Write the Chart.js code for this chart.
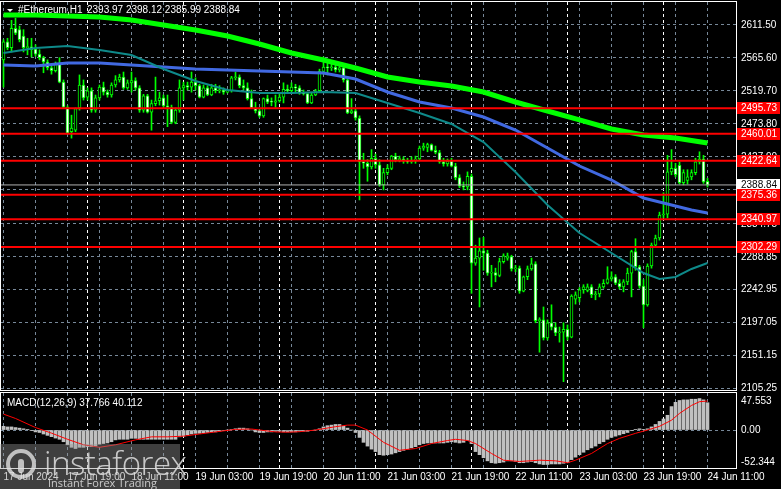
<!DOCTYPE html>
<html>
<head>
<meta charset="utf-8">
<script src="https://cdn.jsdelivr.net/npm/chart.js@4.4.1/dist/chart.umd.min.js"></script>
<style>
  html, body { margin: 0; padding: 0; background: #000; }
  #wrap { position: relative; width: 781px; height: 489px; overflow: hidden; background: #000; }
  #main { position: absolute; left: 0; top: 0; }
  #macd { position: absolute; left: 0; top: 392px; }
  .wm { position: absolute; left: 0; top: 444px; width: 180px; height: 45px;
        background: rgba(150,150,150,0.42); font-family: "Open Sans", sans-serif; color: rgba(225,225,225,0.85); }
  .wm .ico { position: absolute; left: 6px; top: 5px; width: 30px; height: 30px; border-radius: 50%;
             border: 4px solid rgba(225,225,225,0.8); box-sizing: border-box; }
  .wm .ico::after { content: ""; position: absolute; left: 8px; top: 6px; width: 6px; height: 14px;
                    background: rgba(225,225,225,0.8); border-radius: 3px; }
  .wm .big { position: absolute; left: 44px; top: -4px; font-size: 33px; font-weight: 300; letter-spacing: -0.5px; }
  .wm .small { position: absolute; left: 48px; top: 31px; font-size: 11px; }
</style>
</head>
<body>
<div id="wrap">
  <canvas id="main" width="781" height="392"></canvas>
  <canvas id="macd" width="781" height="97"></canvas>
  <div class="wm"><div class="ico"></div><div class="big">instaforex</div><div class="small">Instant Forex Trading</div></div>
</div>
<script>
// ETH H1, first bar = 17 Jun 03:00, one bar per hour
const symbolTitle = "#Ethereum,H1";

const opens = [
  2563,2588,2580,2607,2605,2596,2580,2581,2578,2571, 2566,2560,2552,2548,2557,2532,2497,2463,2465,2496,
  2528,2511,2520,2493,2510,2525,2518,2514,2528,2535, 2539,2524,2531,2534,2524,2493,2513,2490,2502,2506,
  2510,2499,2497,2476,2493,2524,2527,2525,2532,2527, 2511,2524,2514,2524,2520,2521,2518,2520,2538,2539,
  2527,2524,2509,2496,2492,2485,2509,2505,2504,2506, 2511,2522,2520,2525,2524,2517,2516,2503,2514,2520,
  2547,2553,2552,2553,2549,2552,2535,2489,2492,2482, 2421,2419,2414,2426,2417,2389,2406,2412,2429,2424,
  2425,2422,2421,2423,2425,2440,2441,2445,2437,2434, 2421,2418,2422,2415,2399,2387,2386,2401,2280,2287,
  2297,2294,2266,2267,2263,2282,2287,2289,2272,2273, 2241,2261,2272,2279,2200,2201,2176,2197,2191,2183,
  2184,2188,2177,2230,2232,2243,2242,2247,2236,2237, 2247,2252,2258,2261,2252,2247,2254,2266,2296,2275,
  2248,2222,2276,2305,2315,2347,2348,2407,2412,2416, 2392,2395,2400,2406,2421,2425,2393.97
];
const highs = [
  2591,2593,2618,2621,2610,2605,2593,2593,2584,2577, 2568,2563,2554,2560,2566,2535,2499,2486,2496,2542,
  2535,2524,2524,2514,2528,2532,2521,2531,2541,2543, 2546,2535,2546,2538,2527,2515,2515,2507,2539,2518,
  2514,2514,2500,2496,2535,2532,2532,2546,2538,2529, 2528,2527,2529,2529,2527,2524,2522,2540,2546,2542,
  2535,2531,2521,2504,2496,2510,2514,2510,2514,2515, 2531,2528,2531,2529,2527,2521,2518,2517,2522,2550,
  2567,2559,2557,2557,2557,2554,2538,2509,2495,2485, 2433,2424,2438,2432,2424,2412,2417,2430,2433,2429,
  2428,2426,2428,2429,2443,2447,2447,2446,2443,2437, 2426,2425,2426,2419,2403,2393,2407,2404,2305,2315,
  2316,2298,2277,2273,2287,2293,2294,2291,2277,2276, 2262,2276,2287,2282,2204,2219,2201,2222,2197,2191,
  2197,2194,2236,2240,2246,2250,2251,2250,2241,2251, 2257,2275,2268,2264,2257,2257,2273,2298,2314,2277,
  2257,2279,2308,2319,2351,2378,2430,2438,2419,2421, 2410,2410,2410,2426,2435,2430,2398.12
];
const lows = [
  2525,2577,2574,2598,2588,2574,2570,2567,2568,2563, 2545,2549,2543,2546,2531,2496,2461,2454,2463,2493,
  2507,2507,2490,2490,2507,2514,2511,2511,2525,2532, 2522,2522,2518,2521,2490,2490,2489,2465,2499,2500,
  2496,2470,2474,2474,2490,2507,2521,2518,2521,2510, 2510,2513,2513,2517,2517,2515,2517,2518,2535,2524,
  2521,2507,2495,2489,2483,2483,2502,2499,2497,2504, 2503,2517,2517,2518,2515,2514,2502,2502,2513,2518,
  2543,2542,2548,2546,2546,2532,2488,2488,2479,2368, 2412,2394,2411,2412,2387,2382,2403,2410,2421,2421,
  2419,2419,2419,2419,2423,2437,2435,2436,2432,2419, 2415,2415,2414,2396,2385,2382,2382,2238,2277,2219,
  2270,2263,2247,2254,2261,2280,2284,2269,2268,2238, 2240,2257,2270,2197,2156,2173,2173,2187,2179,2170,
  2115,2173,2176,2223,2226,2238,2240,2232,2229,2233, 2245,2251,2255,2250,2244,2240,2250,2233,2270,2245,
  2190,2220,2273,2302,2312,2343,2343,2403,2400,2390, 2389,2390,2396,2403,2418,2391,2385.99
];
const closes = [
  2588,2580,2607,2600,2591,2580,2581,2577,2571,2566, 2560,2552,2548,2557,2532,2497,2461,2468,2495,2528,
  2510,2520,2493,2510,2525,2518,2514,2528,2535,2539, 2524,2531,2534,2524,2493,2513,2490,2502,2506,2510,
  2499,2497,2476,2493,2524,2527,2525,2532,2527,2511, 2524,2514,2524,2520,2521,2518,2520,2538,2539,2527,
  2524,2509,2496,2492,2485,2509,2504,2504,2506,2511, 2522,2520,2525,2524,2517,2516,2503,2514,2520,2547,
  2553,2552,2553,2549,2552,2535,2489,2492,2482,2421, 2419,2414,2426,2417,2389,2406,2412,2429,2424,2425,
  2422,2421,2423,2425,2440,2443,2445,2437,2434,2421, 2418,2422,2415,2399,2387,2386,2401,2280,2287,2297,
  2294,2266,2267,2263,2282,2290,2290,2272,2273,2241, 2261,2272,2279,2200,2201,2176,2197,2191,2183,2184,
  2188,2177,2234,2236,2243,2247,2247,2236,2237,2247, 2252,2258,2261,2252,2247,2254,2266,2296,2275,2248,
  2222,2276,2305,2315,2347,2348,2407,2412,2403,2392, 2406,2400,2406,2421,2425,2393,2388.84
];

// moving averages, read every 8 bars (bar index -> price)
const maIdx  = [0,8,16,24,32,40,48,56,64,72,80,88,96,104,112,120,128,136,144,152,160,164,168,172,176];
const maSlow = [2625.4,2625.4,2624.0,2622.6,2618.5,2611.5,2604.5,2596.2,2585.0,2572.5,2562.8,2551.6,2539.1,
                2532.2,2526.6,2518.2,2504.3,2491.8,2479.3,2466.7,2458.4,2456.3,2454.2,2450.7,2447.2];
const maMid  = [2555.8,2554.4,2558.6,2558.6,2555.8,2553.0,2550.3,2548.9,2547.5,2546.1,2544.7,2536.3,2518.2,
                2504.3,2496.0,2483.4,2465.3,2440.3,2415.2,2395.7,2370.7,2365.2,2359.5,2354.0,2349.8];
const maFast = [2572.5,2579.5,2582.3,2576.7,2569.7,2550.3,2533.6,2521.0,2516.9,2516.9,2518.2,2516.9,2502.9,
                2489.0,2473.7,2448.6,2406.9,2361.0,2321.9,2294.1,2266.3,2257.9,2260.7,2271.9,2280.2];

// horizontal levels
const levels = [2495.73, 2460.01, 2422.64, 2375.36, 2340.97, 2302.29];
const priceTicks = [2611.50, 2565.60, 2519.70, 2473.80, 2427.90, 2382.00, 2334.75, 2288.85, 2242.95, 2197.05, 2151.15, 2105.25];

// time axis
const timeTickIdx = [0,16,32,48,64,80,96,112,128,144,160,176];
const timeLabels = ["17 Jun 2024","17 Jun 19:00","18 Jun 11:00","19 Jun 03:00","19 Jun 19:00","20 Jun 11:00",
                    "21 Jun 03:00","21 Jun 19:00","22 Jun 11:00","23 Jun 03:00","23 Jun 19:00","24 Jun 11:00"];
const daySepIdx = [21,45,69,93,117,141,165];

// MACD(12,26,9)
const macdHist = [
  5.1,4.3,4.3,3.4,2.6,1.7,0.9,-0.9,-2.6,-3.4, -5.5,-7.4,-9.2,-11.1,-12.8,-16.2,-20.4,-23.9,-25.6,-23.9,
  -23.9,-23,-23,-22.2,-19.6,-18.7,-17.9,-16.2,-13.6,-12.8, -12.8,-12.8,-11.5,-11.5,-12.8,-12.8,-12.8,-12.8,-12.8,-12.8,
  -12.8,-12.8,-12.8,-12.8,-9.4,-8.5,-6.8,-5.5,-4.6,-4.6, -3.7,-3.4,-2.7,-2.6,-1.7,-0.9,0,0.9,1.7,2.6,
  2.6,1.7,0,-2.6,-3.4,-3.4,-2.6,-2.6,-1.7,-1.7, -2.6,-2.6,-2.6,-2.6,-1.7,-1.7,-1.7,-0.9,0,1.7,
  4.3,6,6.8,7.7,7.7,5.1,2.6,0,-3.4,-10.2, -17,-22.2,-26.4,-29.8,-34.1,-34.9,-34.1,-33.2,-31.5,-29.8,
  -28.1,-26.4,-24.7,-23,-20.4,-18.7,-17.9,-17.9,-17.9,-17.9, -17.9,-17,-16.2,-17,-17.9,-17,-14.5,-18.7,-29.8,-34.1,
  -38.3,-42.6,-45.2,-46,-45.2,-44.3,-42.6,-42.6,-43.5,-45.2, -45.2,-44.3,-43.5,-45.2,-46.9,-47.7,-47.7,-46.9,-46.9,-46.9,
  -46,-45.2,-40.9,-37.5,-34.1,-30.7,-27.3,-24.7,-22.2,-18.7, -16.2,-12.8,-10.2,-8.5,-6.8,-5.1,-3.4,-0.9,0.9,1.7,
  0.9,1.7,4.3,7.7,11.9,15.3,20.4,32.4,38.3,40.9, 41.7,41.7,42.6,42.6,43.5,41.7,37.766
];
const sigIdx = [0,3,8,12,16,20,24,28,33,37,41,45,49,53,58,62,64,68,71,74,78,83,86,88,91,95,99,103,107,111,113,116,
                118,122,125,129,134,138,141,143,147,151,154,158,161,164,167,169,172,174,176];
const sigVal = [22,16,3.4,-4.3,-12.8,-20.4,-23.9,-20.4,-13.6,-9.4,-9.4,-8.5,-5.5,-2.6,0.9,1.4,0,-2.6,-3,-2.3,0,4.6,6.8,6.8,
                0,-17,-28,-25.6,-18.7,-14.5,-12.8,-14.5,-18.7,-32.4,-41.7,-43.5,-41.7,-42.6,-45.2,-41.7,-32.4,-18.7,-11.5,
                -4.6,0,5.1,13.6,23,34,39.2,40.112];
const macdTicks = [47.553, 0, -52.344];
const macdTickLabels = ["47.553", "0.00", "-52.344"];

const FONT = "10px 'Liberation Sans'";
const GRID = "#778899";
const X_MIN = -0.625, X_MAX = 183.125;

Chart.defaults.font.family = "'Liberation Sans', Arial, sans-serif";
Chart.defaults.font.size = 10;
Chart.defaults.color = "#fff";
Chart.defaults.animation = false;
Chart.defaults.plugins.legend.display = false;
Chart.defaults.plugins.tooltip.enabled = false;

const n = closes.length;
const last = n - 1;

function xGridTicks(scale) {
  const t = [];
  for (let i = 0; i <= 176; i += 8) t.push({ value: i });
  daySepIdx.forEach(v => t.push({ value: v }));
  scale.ticks = t.sort((a, b) => a.value - b.value);
}
const gridColour = c => daySepIdx.includes(c.tick && c.tick.value) ? "#ffffff" : GRID;
// keep the plot box where we put it: no extra room for half labels
function noPad(s) { s.paddingTop = 0; s.paddingBottom = 0; s.paddingLeft = 0; s.paddingRight = 0; }

// ── Main price panel ────────────────────────────────────────────────────────

const mainDecor = {
  id: "mainDecor",
  afterDraw(chart) {
    const { ctx, chartArea: a, scales: { y } } = chart;
    ctx.save();
    ctx.strokeStyle = "#fff";
    ctx.lineWidth = 1;
    ctx.strokeRect(a.left - 0.5, a.top - 0.5, a.right - a.left + 1, a.bottom - a.top + 1);

    ctx.font = FONT;
    ctx.textBaseline = "middle";
    const tag = (v, bg, fg) => {
      const py = Math.round(y.getPixelForValue(v));
      ctx.fillStyle = bg;
      ctx.fillRect(a.right + 1, py - 6, 43, 12);
      ctx.fillStyle = fg;
      ctx.fillText(v.toFixed(2), a.right + 5, py + 0.5);
    };
    tag(closes[last], "#fff", "#000");
    levels.forEach(v => tag(v, "#ff0000", "#fff"));

    // header
    ctx.fillStyle = "#fff";
    ctx.beginPath();
    ctx.moveTo(7, 9); ctx.lineTo(13, 9); ctx.lineTo(10, 12); ctx.closePath(); ctx.fill();
    ctx.fillText(symbolTitle, 18, 10.5);
    ctx.fillText([opens[last], highs[last], lows[last], closes[last]].map(v => v.toFixed(2)).join(" "), 87, 10.5);
    ctx.restore();
  }
};

const idx = closes.map((_, i) => i);
const lineSet = (vals, colour, width) => ({
  type: "line", data: maIdx.map((i, k) => ({ x: i, y: vals[k] })),
  borderColor: colour, borderWidth: width, pointRadius: 0, tension: 0, order: 0
});
const levelSet = (v, colour, width) => ({
  type: "line", data: [{ x: X_MIN, y: v }, { x: X_MAX, y: v }],
  borderColor: colour, borderWidth: width, pointRadius: 0, order: -1
});

new Chart(document.getElementById("main"), {
  type: "bar",
  data: {
    datasets: [
      {
        label: "wicks", order: 3, grouped: false, barThickness: 1,
        data: idx.map(i => ({ x: i, y: [lows[i], highs[i]] })),
        backgroundColor: "#00ff00", borderWidth: 0
      },
      {
        label: "bodies", order: 2, grouped: false, barThickness: 3, minBarLength: 1,
        data: idx.map(i => ({ x: i, y: [opens[i], closes[i]] })),
        backgroundColor: idx.map(i => closes[i] >= opens[i] ? "#000" : "#fff"),
        borderColor: "#00ff00", borderWidth: 1, borderSkipped: false
      },
      lineSet(maFast, "#0e8a8a", 2),
      lineSet(maMid, "#4169e1", 3),
      lineSet(maSlow, "#00ff00", 5),
      levelSet(closes[last], "#b0b0b0", 1),
      ...levels.map(v => levelSet(v, "#ff0000", 2))
    ]
  },
  options: {
    responsive: false,
    layout: { padding: { left: 1, top: 2, right: 0, bottom: 2 } },
    scales: {
      x: {
        type: "linear", min: X_MIN, max: X_MAX, offset: false,
        afterBuildTicks: xGridTicks,
        afterFit: s => { s.height = 0; noPad(s); },
        ticks: { display: false, padding: 0 },
        grid: { color: gridColour, offset: false, drawTicks: false },
        border: { display: false, dash: [3, 3] }
      },
      y: {
        position: "right", min: 2103.4, max: 2643.5,
        afterBuildTicks: s => { s.ticks = priceTicks.map(v => ({ value: v })); },
        afterFit: s => { s.width = 45; noPad(s); },
        ticks: { padding: 5, color: "#fff", font: { size: 10 }, callback: v => v.toFixed(2) },
        grid: { color: GRID, drawTicks: false },
        border: { display: false, dash: [3, 3] }
      }
    }
  },
  plugins: [mainDecor]
});

// ── MACD panel ─────────────────────────────────────────────────────────────

const macdDecor = {
  id: "macdDecor",
  afterDraw(chart) {
    const { ctx, chartArea: a, scales: { y } } = chart;
    ctx.save();
    ctx.strokeStyle = "#fff";
    ctx.lineWidth = 1;
    ctx.strokeRect(a.left - 0.5, a.top - 0.5, a.right - a.left + 1, a.bottom - a.top + 1);
    ctx.font = FONT;
    ctx.fillStyle = "#fff";
    ctx.textBaseline = "middle";
    macdTicks.forEach((v, k) => {
      const py = Math.min(Math.max(y.getPixelForValue(v), a.top + 8), a.bottom - 6);
      ctx.fillText(macdTickLabels[k], a.right + 5, py);
    });
    ctx.fillText("MACD(12,26,9) " + macdHist[last].toFixed(3) + " " + sigVal[sigVal.length - 1].toFixed(3), 7, a.top + 10);
    ctx.restore();
  }
};

new Chart(document.getElementById("macd"), {
  type: "bar",
  data: {
    datasets: [
      {
        label: "hist", order: 1, grouped: false, barThickness: 3,
        data: idx.map(i => ({ x: i, y: macdHist[i] })),
        backgroundColor: "#c0c0c0", borderWidth: 0
      },
      {
        type: "line", label: "signal", order: 0,
        data: sigIdx.map((i, k) => ({ x: i, y: sigVal[k] })),
        borderColor: "#ff0000", borderWidth: 1, pointRadius: 0, tension: 0
      }
    ]
  },
  options: {
    responsive: false,
    layout: { padding: { left: 1, top: 1, right: 0, bottom: 0 } },
    scales: {
      x: {
        type: "linear", min: X_MIN, max: X_MAX, offset: false,
        afterBuildTicks: xGridTicks,
        afterFit: s => { s.height = 21; noPad(s); },
        ticks: {
          autoSkip: false, maxRotation: 0, minRotation: 0, align: "start", padding: 3,
          color: "#fff", font: { size: 10 },
          callback: v => { const k = timeTickIdx.indexOf(v); return k >= 0 ? timeLabels[k] : ""; }
        },
        grid: { color: gridColour, offset: false, drawTicks: false },
        border: { display: false, dash: [3, 3] }
      },
      y: {
        position: "right", min: -52.5, max: 51.2,
        afterBuildTicks: s => { s.ticks = [{ value: 0 }]; },
        afterFit: s => { s.width = 45; noPad(s); },
        ticks: { display: false },
        grid: { color: GRID, drawTicks: false },
        border: { display: false, dash: [3, 3] }
      }
    }
  },
  plugins: [macdDecor]
});
</script>
</body>
</html>
